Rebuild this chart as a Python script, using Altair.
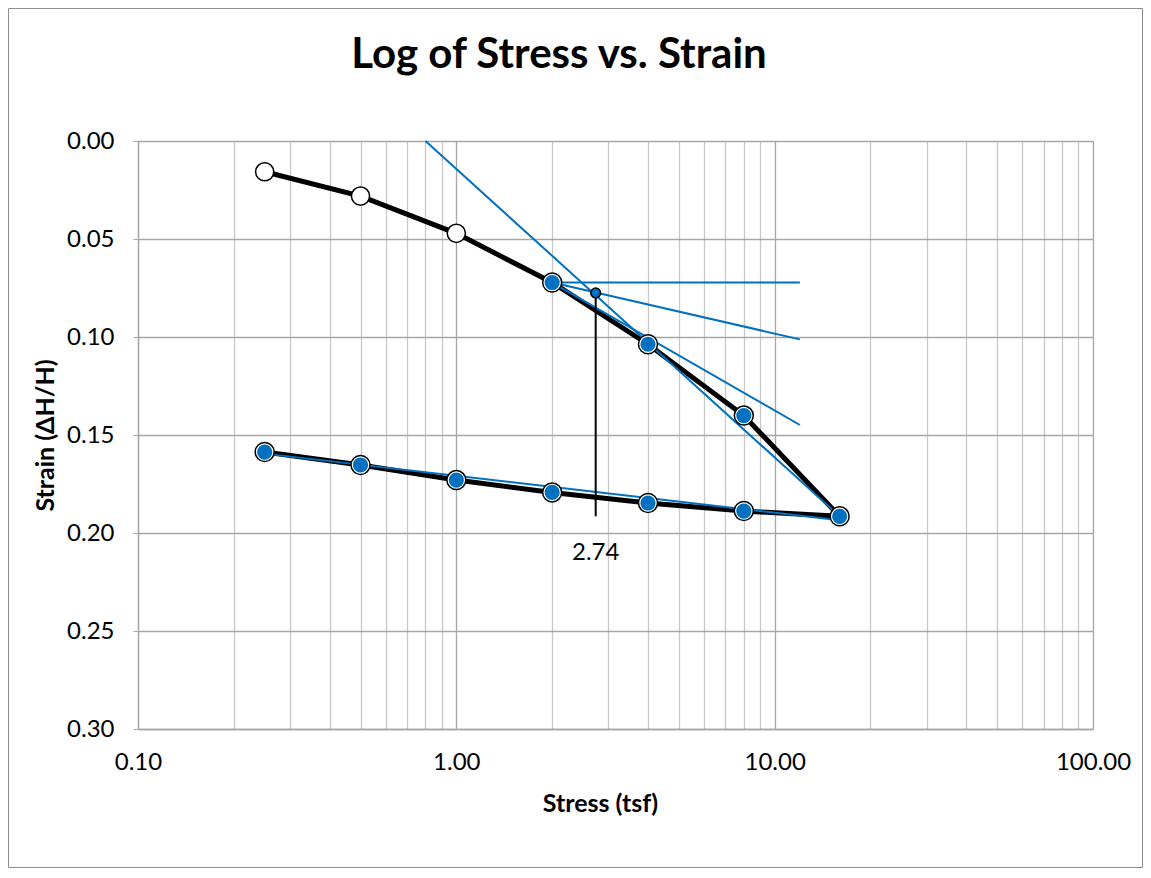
import altair as alt
import pandas as pd

# ---- data ----
load_stress = [0.25, 0.5, 1, 2, 4, 8, 16]
load_strain = [0.0157, 0.0281, 0.0471, 0.0722, 0.1037, 0.1401, 0.1915]
unload_stress = [16, 8, 4, 2, 1, 0.5, 0.25]
unload_strain = [0.1915, 0.1888, 0.1847, 0.1793, 0.1730, 0.1653, 0.1587]

# Casagrande construction lines (segment name, endpoints)
cons_seg = ["virgin", "virgin", "horizontal", "horizontal", "tangent", "tangent",
            "bisector", "bisector", "rebound", "rebound"]
cons_stress = [0.8, 16, 2, 12, 2, 12, 2, 12, 0.25, 16]
cons_strain = [0.0, 0.1915, 0.0722, 0.0722, 0.0722, 0.1449, 0.0722, 0.1012, 0.1595, 0.1935]

pc_stress = [2.74]
pc_strain = [0.0775]
pc_line_strain = [0.0775, 0.1915]
pc_label = ["2.74"]
pc_label_strain = [0.210]

title_text = ["Log of Stress vs. Strain"]
x_title = "Stress (tsf)"
y_title = "Strain (ΔH/H)"
y_ticks = [0.0, 0.05, 0.10, 0.15, 0.20, 0.25, 0.30]
x_ticks = [m * d for d in (0.1, 1, 10) for m in range(1, 10)] + [100]
x_tick_vals = [round(v, 6) for v in x_ticks]

FONT = "Lato"
BLUE = "#0070C0"

# ---- tables ----
curve = pd.DataFrame({
    "stress": load_stress + unload_stress,
    "strain": load_strain + unload_strain,
    "order": list(range(len(load_stress) + len(unload_stress))),
})
open_pts = pd.DataFrame({"stress": load_stress[:3], "strain": load_strain[:3]})
ring_pts = pd.DataFrame({"stress": load_stress[3:] + unload_stress[1:],
                         "strain": load_strain[3:] + unload_strain[1:]})
cons = pd.DataFrame({"seg": cons_seg, "stress": cons_stress, "strain": cons_strain})
pc_pt = pd.DataFrame({"stress": pc_stress, "strain": pc_strain})
pc_line = pd.DataFrame({"stress": pc_stress * 2, "strain": pc_line_strain})
pc_txt = pd.DataFrame({"stress": pc_stress, "strain": pc_label_strain, "label": pc_label})

xs = alt.Scale(type="log", domain=[0.1, 100], nice=False)
ys = alt.Scale(domain=[0, 0.3], reverse=True, nice=False, zero=False)

x_axis = alt.Axis(
    title=x_title, values=x_tick_vals,
    labelExpr="indexof([0.1, 1, 10, 100], datum.value) >= 0 ? format(datum.value, '.2f') : ''",
    ticks=False, tickSize=0, labelPadding=33, labelBaseline="middle", labelFlush=False,
    labelFont=FONT, labelFontSize=24, labelColor="#000000",
    titleFont=FONT, titleFontSize=25, titleFontWeight="bold", titleColor="#000000",
    titleX=462, titleY=74, titleBaseline="middle",
    grid=True,
    gridColor={"condition": {"test": "indexof([0.1, 1, 10, 100], datum.value) >= 0",
                             "value": "#a6a6a6"}, "value": "#c8c8c8"},
    gridWidth=1.3, domainColor="#a6a6a6", domainWidth=1.3, labelOverlap=False,
)
y_axis = alt.Axis(
    title=y_title, values=y_ticks, format=".2f",
    ticks=True, tickSize=5, tickColor="#a6a6a6", labelPadding=19,
    labelFont=FONT, labelFontSize=24, labelColor="#000000",
    titleFont=FONT, titleFontSize=25, titleFontWeight="bold", titleColor="#000000",
    titleX=-93, titleY=294, titleBaseline="middle",
    grid=True, gridColor="#a6a6a6", gridWidth=1.3,
    domainColor="#a6a6a6", domainWidth=1.3,
)


def X():
    return alt.X("stress:Q", scale=xs, axis=x_axis)


def Y():
    return alt.Y("strain:Q", scale=ys, axis=y_axis)


black_curve = alt.Chart(curve).mark_line(color="#000000", strokeWidth=5).encode(
    x=X(), y=Y(), order="order:Q")

blue_lines = alt.Chart(cons).mark_line(color=BLUE, strokeWidth=2).encode(
    x=X(), y=Y(), detail="seg:N")

vline = alt.Chart(pc_line).mark_line(color="#000000", strokeWidth=2).encode(x=X(), y=Y())

open_marks = alt.Chart(open_pts).mark_point(
    shape="circle", filled=True, fill="#ffffff", stroke="#000000", strokeWidth=1.5,
    size=330, opacity=1).encode(x=X(), y=Y())

ring_outer = alt.Chart(ring_pts).mark_point(
    shape="circle", filled=True, fill="#ffffff", stroke="#000000", strokeWidth=1.5,
    size=360, opacity=1).encode(x=X(), y=Y())
ring_inner = alt.Chart(ring_pts).mark_point(
    shape="circle", filled=True, fill=BLUE, strokeWidth=0, size=230, opacity=1).encode(
    x=X(), y=Y())

pc_mark = alt.Chart(pc_pt).mark_point(
    shape="circle", filled=True, fill=BLUE, stroke="#000000", strokeWidth=1.5,
    size=95, opacity=1).encode(x=X(), y=Y())

pc_text = alt.Chart(pc_txt).mark_text(
    font=FONT, fontSize=24, color="#000000", align="center", baseline="middle").encode(
    x=X(), y=Y(), text="label:N")

title = alt.Chart(pd.DataFrame({"t": title_text})).mark_text(
    font=FONT, fontSize=42, fontWeight="bold", color="#000000",
    align="center", baseline="alphabetic").encode(
    x=alt.value(421), y=alt.value(-73), text="t:N")

border = alt.Chart(pd.DataFrame({"a": [0]})).mark_rect(
    fillOpacity=0, stroke="#8c8c8c", strokeWidth=1).encode(
    x=alt.value(-129.5), x2=alt.value(1004.5), y=alt.value(-132.5), y2=alt.value(726.5))

chart = alt.layer(
    border, black_curve, blue_lines, vline, open_marks, ring_outer, ring_inner,
    pc_mark, pc_text, title,
).properties(
    width=955, height=588,
    autosize=alt.AutoSizeParams(type="none"),
    padding={"left": 130, "top": 133, "right": 50, "bottom": 139},
    background="#ffffff",
).configure_view(strokeWidth=0)

chart.save("out.html", embed_options={"renderer": "svg", "actions": False})
